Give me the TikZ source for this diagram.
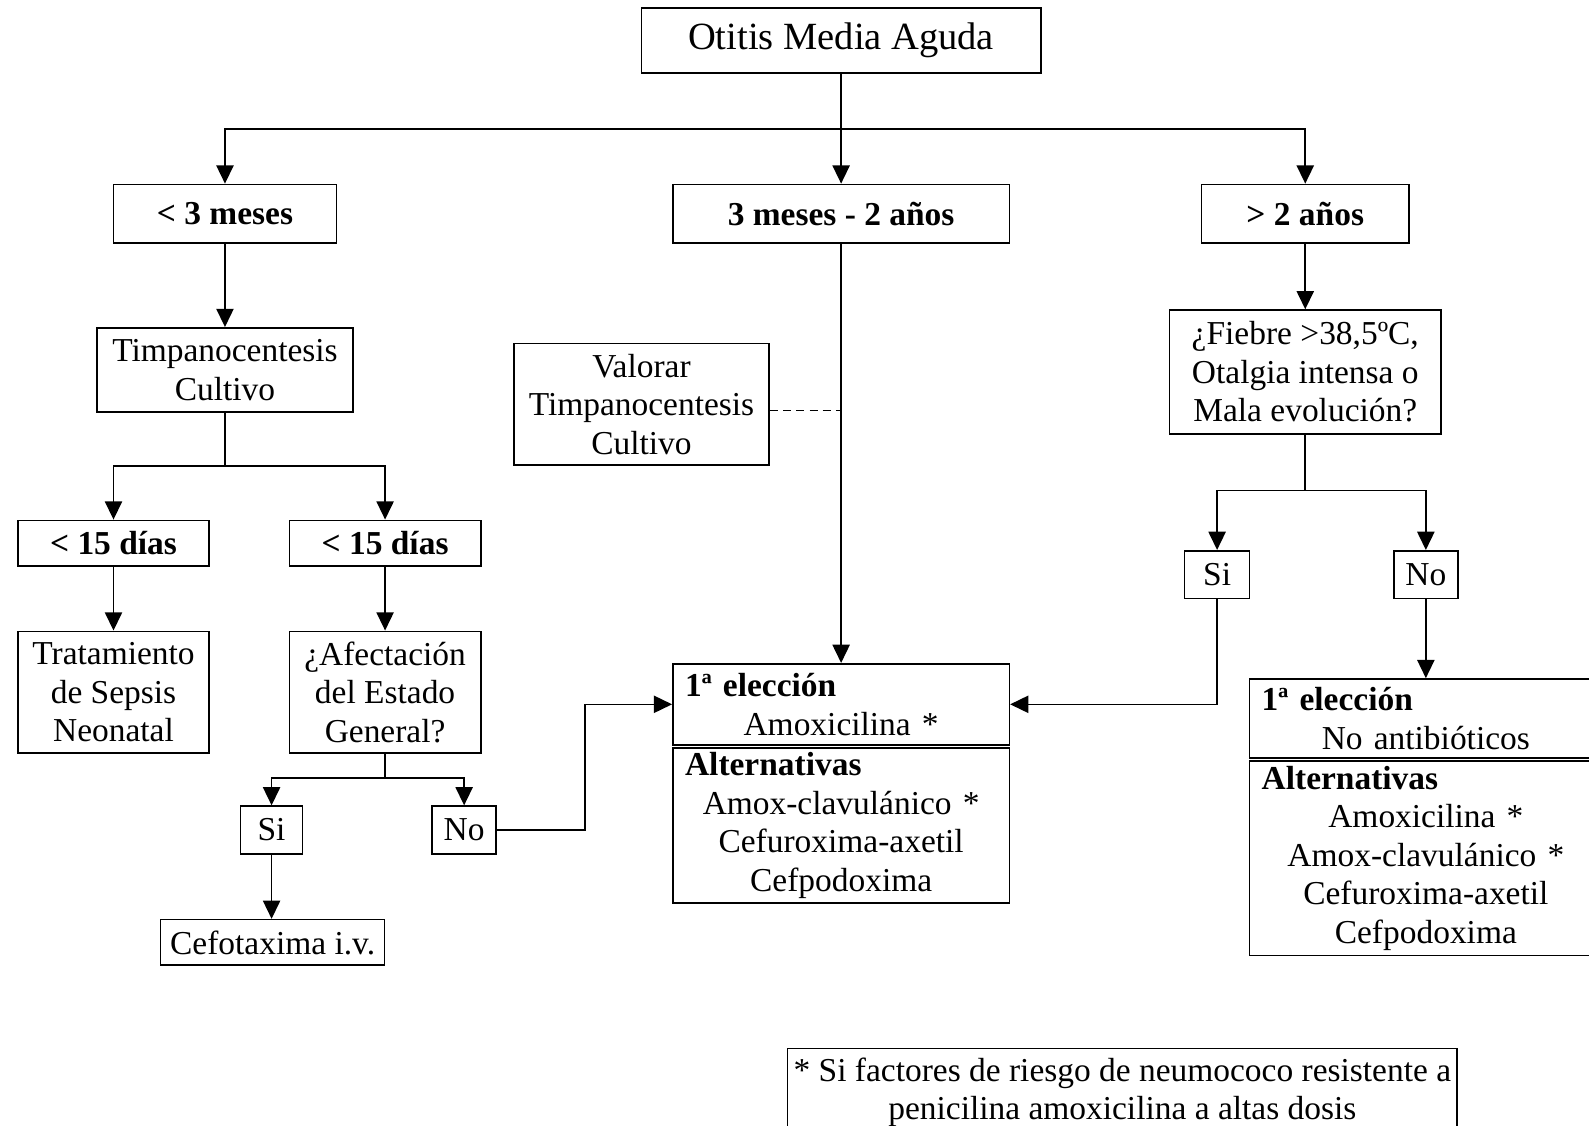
\documentclass[tikz,border=0pt]{standalone}
\usepackage{fontspec}
\setmainfont{Liberation Serif}
\usetikzlibrary{arrows.meta}
\newcommand{\bodyfs}{\fontsize{33}{38}\selectfont}
\newcommand{\titlefs}{\fontsize{38}{42}\selectfont}
\newcommand{\hdrline}[1]{\makebox[\hsize][l]{\textbf{#1}}}
\tikzset{
  box/.style={draw,line width=1.6pt,inner sep=0pt,align=center,font=\bodyfs},
  hdr/.style={box,font=\bodyfs\bfseries},
  txbox/.style={box,inner xsep=12pt},
  flow/.style={-{Triangle[length=18pt,width=17pt]},line width=1.6pt},
  link/.style={line width=1.6pt}
}

\begin{document}
\begin{tikzpicture}[x=1pt,y=-1pt]
\useasboundingbox (0,0) rectangle (1568,1111);
% top
\node[box,font=\titlefs,minimum width=394pt,minimum height=64pt] (title) at (830,40) {Otitis Media Aguda};
\node[hdr,minimum width=220pt,minimum height=58pt] (lt3) at (222,211) {< 3 meses};
\node[hdr,minimum width=332pt,minimum height=58pt] (mid) at (830,211) {3 meses - 2 años};
\node[hdr,minimum width=205pt,minimum height=58pt] (gt2) at (1288,211) {> 2 años};
\coordinate (split) at (830,127);
\draw[flow] (title) -- (mid);
\draw[flow] (split) -| (lt3);
\draw[flow] (split) -| (gt2);

% < 3 meses
\node[box,minimum width=253pt,minimum height=83pt] (timp) at (222,365) {Timpanocentesis\\Cultivo};
\node[hdr,minimum width=189pt,minimum height=45pt] (d15a) at (112,536) {< 15 días};
\node[hdr,minimum width=189pt,minimum height=45pt] (d15b) at (380,536) {< 15 días};
\node[box,minimum width=189pt,minimum height=120pt] (sepsis) at (112,683) {Tratamiento\\de Sepsis\\Neonatal};
\node[box,minimum width=189pt,minimum height=120pt] (afec) at (380,683) {¿Afectación\\del Estado\\General?};
\node[box,minimum width=61pt,minimum height=47pt] (si1) at (268,819) {Si};
\node[box,minimum width=63pt,minimum height=47pt] (no1) at (458,819) {No};
\node[box,minimum width=221pt,minimum height=45pt] (cefo) at (269,930) {Cefotaxima i.v.};
\coordinate (s2) at (222,460);
\coordinate (s3) at (380,768);
\draw[flow] (lt3) -- (timp);
\draw[link] (timp) -- (s2);
\draw[flow] (s2) -| (d15a);
\draw[flow] (s2) -| (d15b);
\draw[flow] (d15a) -- (sepsis);
\draw[flow] (d15b) -- (afec);
\draw[link] (afec) -- (s3);
\draw[flow] (s3) -| (si1);
\draw[flow] (s3) -| (no1);
\draw[flow] (si1) -- (si1 |- cefo.north);

% 3 meses - 2 anos
\node[box,minimum width=252pt,minimum height=120pt] (valorar) at (633,399) {Valorar\\Timpanocentesis\\Cultivo};
\node[txbox,text width=308pt,minimum height=80pt] (elec1) at (830,695)
  {\hdrline{1ª elección}\\Amoxicilina *};
\node[txbox,text width=308pt,minimum height=153pt] (alt1) at (830,814.5)
  {\hdrline{Alternativas}\\Amox-clavulánico *\\Cefuroxima-axetil\\Cefpodoxima};
\draw[flow] (mid) -- (elec1);
\draw[link,dash pattern=on 8pt off 5pt] (valorar.east |- 0,405) -- (mid |- 0,405);
\draw[flow] (no1.east) -- ++(87,0) |- (elec1.west);

% > 2 anos
\node[box,minimum width=268pt,minimum height=122pt] (fiebre) at (1288,367) {¿Fiebre >38,5ºC,\\Otalgia intensa o\\Mala evolución?};
\node[box,minimum width=64pt,minimum height=47pt] (si2) at (1201,567) {Si};
\node[box,minimum width=63pt,minimum height=47pt] (no2) at (1407,567) {No};
\node[txbox,text width=324pt,minimum height=78pt] (elec2) at (1407,709)
  {\hdrline{1ª elección}\\No antibióticos};
\node[txbox,text width=324pt,minimum height=192pt] (alt2) at (1407,847)
  {\hdrline{Alternativas}\\Amoxicilina *\\Amox-clavulánico *\\Cefuroxima-axetil\\Cefpodoxima};
\coordinate (s4) at (1288,484);
\draw[flow] (gt2) -- (fiebre);
\draw[link] (fiebre) -- (s4);
\draw[flow] (s4) -| (si2);
\draw[flow] (s4) -| (no2);
\draw[flow] (si2.south) |- (elec1.east);
\draw[flow] (no2) -- (elec2);

% nota
\node[box,minimum width=661pt,inner ysep=9pt,anchor=north] (nota) at (1107.5,1034)
  {* Si factores de riesgo de neumococo resistente a\\penicilina amoxicilina a altas dosis};
\end{tikzpicture}
\end{document}
